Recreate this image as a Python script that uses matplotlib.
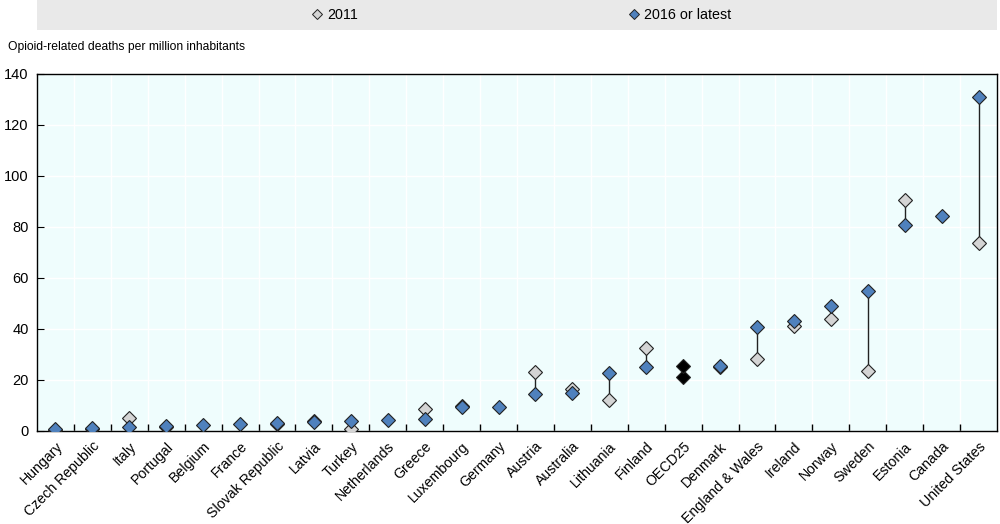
import matplotlib.pyplot as plt
from matplotlib.lines import Line2D
from matplotlib.patches import Rectangle
import numpy as np

plt.rcParams['font.family'] = ['Liberation Sans', 'DejaVu Sans']

countries = ['Hungary', 'Czech Republic', 'Italy', 'Portugal', 'Belgium', 'France',
             'Slovak Republic', 'Latvia', 'Turkey', 'Netherlands', 'Greece', 'Luxembourg',
             'Germany', 'Austria', 'Australia', 'Lithuania', 'Finland', 'OECD25', 'Denmark',
             'England & Wales', 'Ireland', 'Norway', 'Sweden', 'Estonia', 'Canada',
             'United States']
# nan = no 2011 value shown
y2011 = [0.5, 0.8, 5.0, 1.6, np.nan, np.nan, 2.6, 3.8, 0.8, np.nan, 8.8, 9.8,
         np.nan, 23.0, 16.5, 12.2, 32.4, 21.3, 25.0, 28.2, 41.2, 43.9, 23.4, 90.7,
         np.nan, 73.7]
y2016 = [0.7, 1.2, 1.7, 1.8, 2.4, 2.7, 3.0, 3.5, 4.0, 4.3, 4.8, 9.3,
         9.4, 14.6, 15.0, 22.6, 25.2, 25.5, 25.5, 40.8, 43.3, 48.9, 55.0, 80.9,
         84.4, 130.9]

blue = '#4f81bd'
grey = '#d4d4d4'
edge = '#222222'

fig = plt.figure(figsize=(10, 5.24), dpi=100)
ax = fig.add_axes([0.037, 0.1775, 0.96, 0.6813])
ax.set_facecolor('#effdfd')

x = np.arange(len(countries))
for i in x:
    if not np.isnan(y2011[i]):
        ax.plot([i, i], [y2011[i], y2016[i]], color=edge, lw=1, zorder=2)

for i in x:
    oecd = countries[i] == 'OECD25'
    c11 = 'black' if oecd else grey
    c16 = 'black' if oecd else blue
    if not np.isnan(y2011[i]):
        ax.plot(i, y2011[i], 'D', ms=7, mfc=c11, mec=edge, mew=0.8, zorder=3)
    ax.plot(i, y2016[i], 'D', ms=7, mfc=c16, mec=edge, mew=0.8, zorder=4)

ax.set_xlim(-0.5, len(countries) - 0.5)
ax.set_ylim(0, 140)
ax.set_yticks(range(0, 141, 20))
ax.set_xticks(x)
ax.set_xticklabels(countries, rotation=45, ha='right', rotation_mode='anchor', fontsize=10.2)
ax.set_xticks(x[:-1] + 0.5, minor=True)
ax.tick_params(axis='x', which='major', length=0, pad=6)
ax.tick_params(axis='x', which='minor', direction='in', length=5, width=1)
ax.tick_params(axis='y', direction='in', length=5, labelsize=10.5, pad=6)
ax.grid(True, axis='y', color='white', lw=1)
ax.grid(True, axis='x', which='minor', color='white', lw=1)
ax.set_axisbelow(True)
for s in ax.spines.values():
    s.set_color('black')
    s.set_linewidth(1)

fig.text(0.008, 0.91, 'Opioid-related deaths per million inhabitants', fontsize=8.7, va='center')

fig.patches.append(Rectangle((0.037, 0.943), 0.96, 0.057, transform=fig.transFigure,
                             facecolor='#e9e9e9', edgecolor='none', zorder=0))
handles = [Line2D([], [], marker='D', ls='none', ms=5, mfc=grey, mec=edge, mew=0.7),
           Line2D([], [], marker='D', ls='none', ms=5, mfc=blue, mec=edge, mew=0.7)]
fig.legend(handles, ['2011', '2016 or latest'], ncol=2, loc='center',
           bbox_to_anchor=(0.521, 0.972), frameon=False, fontsize=10.3,
           handlelength=0.8, handletextpad=0.3, columnspacing=18.9)

fig.savefig('out.png', dpi=100)
